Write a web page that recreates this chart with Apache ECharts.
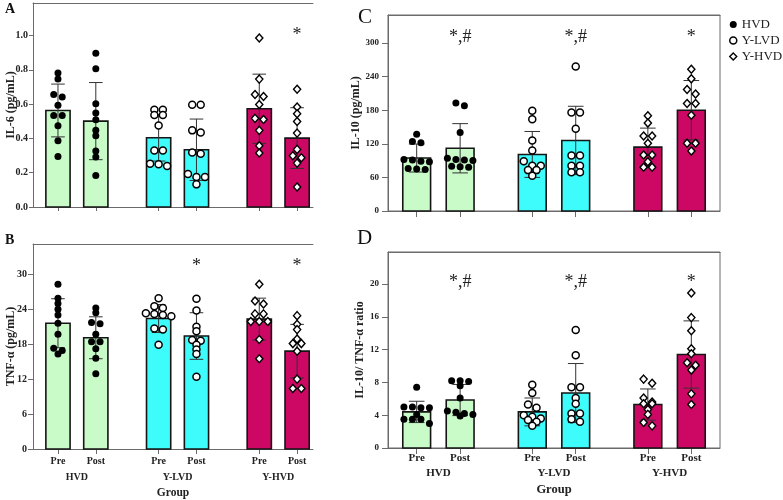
<!DOCTYPE html>
<html>
<head>
<meta charset="utf-8">
<title>IL-6 / TNF-α / IL-10</title>
<script src="https://cdn.jsdelivr.net/npm/echarts@6/dist/echarts.min.js"></script>
</head>
<body style="margin:0">
<div id="container" style="width:783px;height:500px"></div>
<script>
var groups = ['HVD', 'Y-LVD', 'Y-HVD'];
var phases = ['Pre', 'Post'];
var groupColors = ['#c8fbc8', '#3ffcfc', '#cc0864'];
var FONT = 'Liberation Serif';

// order of every list below: HVD Pre, HVD Post, Y-LVD Pre, Y-LVD Post, Y-HVD Pre, Y-HVD Post
var il6Points = [
  [0.781, 0.746, 0.656, 0.641, 0.594, 0.534, 0.534, 0.474, 0.386, 0.295],
  [0.897, 0.806, 0.602, 0.548, 0.509, 0.447, 0.416, 0.326, 0.291, 0.184],
  [0.567, 0.567, 0.536, 0.536, 0.476, 0.330, 0.330, 0.252, 0.250, 0.239],
  [0.596, 0.596, 0.447, 0.435, 0.318, 0.311, 0.192, 0.175, 0.175, 0.132],
  [0.986, 0.746, 0.656, 0.645, 0.598, 0.517, 0.510, 0.447, 0.357, 0.315],
  [0.687, 0.583, 0.544, 0.499, 0.431, 0.336, 0.299, 0.287, 0.256, 0.117]
];
var il6Mean = [0.563, 0.501, 0.404, 0.334, 0.573, 0.402];
var il6Sd = [0.154, 0.225, 0.136, 0.179, 0.202, 0.177];
var il6Marks = ['', '', '', '', '', '*'];
var il6Ticks = [0, 0.2, 0.4, 0.6, 0.8, 1.0];

var tnfPoints = [
  [28.3, 25.9, 25.0, 24.0, 23.0, 21.6, 19.7, 17.3, 16.9, 16.3],
  [24.2, 23.4, 21.7, 21.5, 19.7, 18.4, 18.4, 17.2, 15.6, 12.9],
  [25.9, 24.5, 24.2, 23.3, 23.2, 23.0, 22.8, 20.7, 20.5, 17.9],
  [25.8, 23.8, 21.0, 20.2, 18.7, 18.6, 17.9, 17.1, 16.3, 12.4],
  [28.3, 25.4, 24.9, 23.2, 23.2, 21.9, 21.9, 21.9, 18.8, 15.5],
  [22.9, 21.4, 20.5, 18.9, 18.1, 18.1, 16.8, 12.0, 10.4, 10.4]
];
var tnfMean = [21.6, 19.1, 22.4, 19.4, 22.3, 16.8];
var tnfSd = [4.2, 3.6, 2.4, 4.0, 3.6, 4.6];
var tnfMarks = ['', '', '', '*', '', '*'];
var tnfTicks = [0, 6, 12, 18, 24, 30];

var il10Points = [
  [137, 124, 122, 92, 91, 89, 88, 76, 75, 74],
  [193, 188, 140, 94, 92, 91, 90, 80, 79, 78],
  [179, 164, 126, 108, 89, 81, 81, 73, 73, 63],
  [258, 176, 176, 147, 99, 99, 81, 81, 69, 69],
  [170, 157, 134, 134, 121, 100, 100, 88, 78, 78],
  [253, 236, 217, 209, 192, 192, 171, 121, 121, 107]
];
var il10Mean = [94.6, 112, 101, 126, 114, 180];
var il10Sd = [25, 44, 41, 61, 34, 53];
var il10Marks = ['', '*,#', '', '*,#', '', '*'];
var il10Ticks = [0, 60, 120, 180, 240, 300];

var ratioPoints = [
  [7.4, 5.0, 5.0, 4.9, 4.9, 4.1, 3.5, 3.5, 3.5, 3.0],
  [8.2, 8.2, 8.1, 7.6, 6.1, 4.5, 4.35, 4.2, 4.1, 3.9],
  [7.7, 6.7, 5.3, 4.9, 4.0, 3.8, 3.6, 3.4, 3.2, 2.7],
  [14.4, 11.3, 7.4, 7.4, 6.1, 5.4, 4.2, 4.2, 3.5, 3.2],
  [8.4, 7.9, 6.1, 5.6, 5.4, 5.4, 4.7, 4.1, 3.1, 2.7],
  [18.9, 15.9, 14.3, 12.1, 11.5, 10.4, 10.1, 9.5, 6.6, 5.3]
];
var ratioMean = [4.4, 5.85, 4.4, 6.7, 5.3, 11.4];
var ratioSd = [1.3, 1.9, 1.7, 3.6, 1.9, 4.1];
var ratioMarks = ['', '*,#', '', '*,#', '', '*'];
var ratioTicks = [0, 4, 8, 12, 16, 20];

// layout of the four panels
var panels = [
  {name: 'IL-6 (pg/mL)', points: il6Points, mean: il6Mean, sd: il6Sd, marks: il6Marks, ticks: il6Ticks,
   dec: 1, grid: {left: 33, top: 3, width: 280, height: 204}, yMax: 1.19, xMax: 7.74, markY: 1.0,
   nameGap: 16, tickLen: 4, tickFont: 10, labelGap: 5, xLabels: false, frame: false},
  {name: 'TNF-α (pg/mL)', points: tnfPoints, mean: tnfMean, sd: tnfSd, marks: tnfMarks, ticks: tnfTicks,
   dec: 0, grid: {left: 33, top: 244, width: 280, height: 205}, yMax: 35.2, xMax: 7.74, markY: 31.3,
   nameGap: 16, tickLen: 5, tickFont: 10, labelGap: 6, xLabels: true, frame: false,
   xMargin: 7, xFont: 10, groupGap: 23, titleGap: 38, titleFont: 11.5},
  {name: 'IL-10 (pg/mL)', points: il10Points, mean: il10Mean, sd: il10Sd, marks: il10Marks, ticks: il10Ticks,
   dec: 0, grid: {left: 388, top: 15, width: 332, height: 196}, yMax: 350, xMax: 7.98, markY: 310,
   nameGap: 26, tickLen: 6, tickFont: 9, labelGap: 9, xLabels: false, frame: true},
  {name: 'IL-10/ TNF-α ratio', points: ratioPoints, mean: ratioMean, sd: ratioSd, marks: ratioMarks, ticks: ratioTicks,
   dec: 0, grid: {left: 388, top: 252, width: 332, height: 196}, yMax: 23.9, xMax: 7.98, markY: 20.2,
   nameGap: 22, tickLen: 6, tickFont: 9, labelGap: 9, xLabels: true, frame: true,
   xMargin: 5, xFont: 11, groupGap: 20, titleGap: 35, titleFont: 12.5}
];

var X_MIN = 0.34;
var GROUP_STEP = 2.66;
var BAR_HALF = 0.32;
var CAP_HALF = 0.18;
var AXIS_COLOR = '#6b6b6b';

function barPos(k) { return 1 + Math.floor(k / 2) * GROUP_STEP + (k % 2); }
var positions = [0, 1, 2, 3, 4, 5].map(barPos);
var groupCenters = [0, 1, 2].map(function (g) { return 1.5 + g * GROUP_STEP; });

// spread points of similar value side by side (like Prism's scatter)
function swarm(vals, pxY, pxX) {
  var sorted = vals.slice().sort(function (a, b) { return b - a; });
  var rows = [];
  sorted.forEach(function (v) {
    var row = rows[rows.length - 1];
    if (row && (row[0] - v) * pxY < 4.5) row.push(v); else rows.push([v]);
  });
  var out = [];
  rows.forEach(function (row) {
    row.forEach(function (v, j) {
      out.push([(j - (row.length - 1) / 2) * 8.5 / pxX, v]);
    });
  });
  return out;
}

function renderBar(params, api) {
  var x = api.value(0), y = api.value(1), g = api.value(2);
  var tl = api.coord([x - BAR_HALF, y]);
  var br = api.coord([x + BAR_HALF, 0]);
  return {type: 'rect', shape: {x: tl[0], y: tl[1], width: br[0] - tl[0], height: br[1] - tl[1]},
    style: {fill: groupColors[g], stroke: '#151515', lineWidth: 1.6}};
}

function renderErr(params, api) {
  var x = api.value(0), m = api.value(1), s = api.value(2);
  var t = api.coord([x, m + s]), b = api.coord([x, m - s]);
  var hw = api.size([CAP_HALF, 0])[0];
  var st = {stroke: '#333', lineWidth: 1};
  return {type: 'group', children: [
    {type: 'line', shape: {x1: t[0], y1: t[1], x2: b[0], y2: b[1]}, style: st},
    {type: 'line', shape: {x1: t[0] - hw, y1: t[1], x2: t[0] + hw, y2: t[1]}, style: st},
    {type: 'line', shape: {x1: b[0] - hw, y1: b[1], x2: b[0] + hw, y2: b[1]}, style: st}
  ]};
}

// HVD: filled dot, Y-LVD: open circle, Y-HVD: open diamond
function renderDot(params, api) {
  var c = api.coord([api.value(0), api.value(1)]);
  var g = api.value(2);
  if (g === 0) return {type: 'circle', shape: {cx: c[0], cy: c[1], r: 3.5}, style: {fill: '#000'}};
  if (g === 1) return {type: 'circle', shape: {cx: c[0], cy: c[1], r: 3.5},
    style: {fill: '#fff', stroke: '#000', lineWidth: 1.5}};
  return {type: 'polygon', shape: {points: [[c[0], c[1] - 4], [c[0] + 3.6, c[1]], [c[0], c[1] + 4], [c[0] - 3.6, c[1]]]},
    style: {fill: '#fff', stroke: '#000', lineWidth: 1.4}};
}

var grids = [], xAxes = [], yAxes = [], series = [];
function boldText(size) {
  return {fontFamily: FONT, fontWeight: 'bold', fontSize: size, color: '#222'};
}

panels.forEach(function (p, pi) {
  grids.push(Object.assign({show: p.frame, borderColor: AXIS_COLOR, borderWidth: 1,
    containLabel: false, outerBoundsMode: 'none'}, p.grid));
  var pxY = p.grid.height / p.yMax;
  var pxX = p.grid.width / (p.xMax - X_MIN);

  var xi = xAxes.length;
  xAxes.push({
    type: 'value', gridIndex: pi, min: X_MIN, max: p.xMax, position: 'bottom',
    splitLine: {show: false},
    axisLine: {onZero: false, lineStyle: {color: AXIS_COLOR}},
    axisTick: {show: true, length: p.tickLen, customValues: positions, lineStyle: {color: AXIS_COLOR}},
    axisLabel: Object.assign({show: p.xLabels, customValues: positions, margin: p.xMargin || 6,
      formatter: function (v) { var k = positions.indexOf(v); return k < 0 ? '' : phases[k % 2]; }},
      boldText(p.xFont || 10)),
    name: p.xLabels ? 'Group' : '', nameLocation: 'middle', nameGap: p.titleGap || 30, nameMoveOverlap: false,
    nameTextStyle: boldText(p.titleFont || 12)
  });
  xAxes.push({
    type: 'value', gridIndex: pi, min: X_MIN, max: p.xMax, position: 'top',
    splitLine: {show: false}, axisTick: {show: false}, axisLabel: {show: false},
    axisLine: {show: true, onZero: false, lineStyle: {color: AXIS_COLOR}}
  });
  if (p.xLabels) {
    xAxes.push({
      type: 'value', gridIndex: pi, min: X_MIN, max: p.xMax, position: 'bottom',
      splitLine: {show: false}, axisTick: {show: false}, axisLine: {show: false, onZero: false},
      axisLabel: Object.assign({customValues: groupCenters, margin: p.groupGap,
        formatter: function (v) { var k = groupCenters.indexOf(v); return k < 0 ? '' : groups[k]; }},
        boldText(p.xFont))
    });
  }
  var yi = yAxes.length;
  yAxes.push({
    type: 'value', gridIndex: pi, min: 0, max: p.yMax,
    splitLine: {show: false},
    axisLine: {show: true, onZero: false, lineStyle: {color: AXIS_COLOR}},
    axisTick: {show: true, length: p.tickLen, customValues: p.ticks, lineStyle: {color: AXIS_COLOR}},
    axisLabel: Object.assign({customValues: p.ticks, margin: p.labelGap,
      formatter: function (v) { return v.toFixed(p.dec); }}, boldText(p.tickFont)),
    name: p.name, nameLocation: 'middle', nameGap: p.nameGap, nameMoveOverlap: false,
    nameTextStyle: boldText(12)
  });

  series.push({
    type: 'custom', xAxisIndex: xi, yAxisIndex: yi, z: 1, renderItem: renderBar, silent: true,
    data: p.mean.map(function (m, k) { return [positions[k], m, Math.floor(k / 2)]; })
  });
  series.push({
    type: 'custom', xAxisIndex: xi, yAxisIndex: yi, z: 2, renderItem: renderErr, silent: true,
    data: p.mean.map(function (m, k) { return [positions[k], m, p.sd[k]]; })
  });
  groups.forEach(function (gName, g) {
    var data = [];
    [0, 1].forEach(function (ph) {
      var k = g * 2 + ph;
      swarm(p.points[k], pxY, pxX).forEach(function (d) { data.push([positions[k] + d[0], d[1], g]); });
    });
    series.push({type: 'custom', name: gName, xAxisIndex: xi, yAxisIndex: yi, z: 3, silent: true,
      renderItem: renderDot, data: data});
  });
  var markData = [];
  p.marks.forEach(function (m, k) { if (m) markData.push([positions[k], p.markY, k]); });
  series.push({
    type: 'custom', xAxisIndex: xi, yAxisIndex: yi, z: 4, silent: true, data: markData,
    renderItem: function (params, api) {
      var c = api.coord([api.value(0), api.value(1)]);
      return {type: 'text', x: c[0], y: c[1], style: {text: p.marks[api.value(2)], fill: '#222',
        font: '18px "' + FONT + '"', align: 'center', verticalAlign: 'middle'}};
    }
  });
});

var chart = echarts.init(document.getElementById('container'));
chart.setOption({
  backgroundColor: '#fff',
  animation: false,
  grid: grids,
  xAxis: xAxes,
  yAxis: yAxes,
  legend: {
    orient: 'vertical', left: 729, top: 18, padding: 0, itemWidth: 7, itemHeight: 7, itemGap: 3,
    textStyle: {fontFamily: FONT, fontSize: 13, color: '#222'},
    data: [
      {name: 'HVD', icon: 'circle', itemStyle: {color: '#000'}},
      {name: 'Y-LVD', icon: 'circle', itemStyle: {color: '#fff', borderColor: '#000', borderWidth: 1.5}},
      {name: 'Y-HVD', icon: 'diamond', itemStyle: {color: '#fff', borderColor: '#000', borderWidth: 1.4}}
    ]
  },
  graphic: [
    {type: 'text', left: 5, top: 2, style: {text: 'A', font: 'bold 14px "' + FONT + '"', fill: '#111'}},
    {type: 'text', left: 5, top: 233, style: {text: 'B', font: 'bold 14px "' + FONT + '"', fill: '#111'}},
    {type: 'text', left: 358, top: 7, style: {text: 'C', font: '21px "' + FONT + '"', fill: '#111'}},
    {type: 'text', left: 357, top: 228, style: {text: 'D', font: '21px "' + FONT + '"', fill: '#111'}}
  ],
  series: series
});
</script>
</body>
</html>
